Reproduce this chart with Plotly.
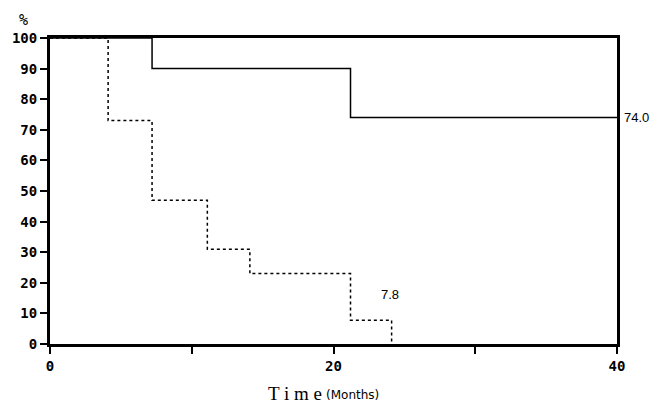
import plotly.graph_objects as go

# Survival step data (months, %)
group_a_time = [0, 7.2, 21.2, 40]
group_a_surv = [100, 90, 74, 74]
group_b_time = [0, 4.1, 7.2, 11.1, 14.1, 21.2, 24.1]
group_b_surv = [100, 73, 47, 31, 23, 7.8, 0]

y_ticks = [0, 10, 20, 30, 40, 50, 60, 70, 80, 90, 100]
x_ticks = [0, 10, 20, 30, 40]
x_tick_text = ["0", "", "20", "", "40"]

mono = "DejaVu Sans Mono"

fig = go.Figure()
fig.add_trace(go.Scatter(x=group_a_time, y=group_a_surv, mode="lines",
                         line=dict(shape="hv", color="black", width=1.5),
                         showlegend=False, cliponaxis=False))
fig.add_trace(go.Scatter(x=group_b_time, y=group_b_surv, mode="lines",
                         line=dict(shape="hv", color="black", width=1.5, dash="dot"),
                         showlegend=False, cliponaxis=False))

fig.add_annotation(x=40, y=74, text="74.0", showarrow=False, xanchor="left",
                   xshift=5, font=dict(family="Arial", size=13, color="black"))
fig.add_annotation(x=24.0, y=16.3, text="7.8", showarrow=False,
                   font=dict(family="Arial", size=13, color="black"))
fig.add_annotation(xref="paper", yref="paper", x=-0.046, y=1.06, text="%",
                   showarrow=False, xanchor="center", yanchor="middle",
                   font=dict(family=mono, size=15, color="black"))
fig.add_annotation(xref="paper", yref="paper", x=0.5, y=-0.163, text="T i m e",
                   showarrow=False, xanchor="right", yanchor="middle", xshift=-10,
                   font=dict(family="Liberation Serif", size=19, color="black"))
fig.add_annotation(xref="paper", yref="paper", x=0.5, y=-0.163, text="(Months)",
                   showarrow=False, xanchor="left", yanchor="middle", xshift=-10, yshift=-1,
                   font=dict(family="DejaVu Sans", size=12, color="black"))

fig.update_xaxes(range=[0, 40], tickvals=x_ticks, ticktext=x_tick_text,
                 ticks="outside", ticklen=7, tickwidth=1.5, tickcolor="black",
                 showline=True, linewidth=3, linecolor="black", mirror=True,
                 showgrid=False, zeroline=False,
                 tickfont=dict(family=mono, size=14, color="black", weight="bold"))
fig.update_yaxes(range=[0, 100], tickvals=y_ticks,
                 ticks="outside", ticklen=7, tickwidth=1.5, tickcolor="black",
                 showline=True, linewidth=3, linecolor="black", mirror=True,
                 showgrid=False, zeroline=False,
                 tickfont=dict(family=mono, size=14, color="black", weight="bold"))

fig.update_layout(width=659, height=413, margin=dict(l=45, r=42, t=38, b=69),
                  plot_bgcolor="white", paper_bgcolor="white")

fig.write_html("out.html")
